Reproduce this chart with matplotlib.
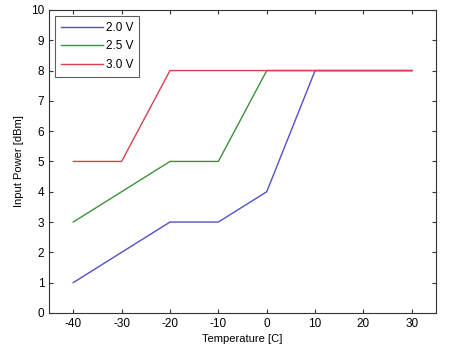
import matplotlib
matplotlib.use("Agg")
import matplotlib.pyplot as plt

temp_20 = [-40, -20, -10, 0, 10, 30]
pow_20 = [1, 3, 3, 4, 8, 8]
temp_25 = [-40, -20, -10, 0, 30]
pow_25 = [3, 5, 5, 8, 8]
temp_30 = [-40, -30, -20, 30]
pow_30 = [5, 5, 8, 8]
labels = ["2.0 V", "2.5 V", "3.0 V"]
xticks = [-40, -30, -20, -10, 0, 10, 20, 30]
yticks = list(range(0, 11))

plt.rcParams['font.family'] = ['Liberation Sans', 'DejaVu Sans']
plt.rcParams['axes.unicode_minus'] = False
fig = plt.figure(figsize=(4.5, 3.56), dpi=100)
ax = fig.add_axes([0.109, 0.121, 0.860, 0.851])
ax.plot(temp_20, pow_20, color="#5050c8", lw=1.0, label=labels[0])
ax.plot(temp_25, pow_25, color="#3f8f3f", lw=1.0, label=labels[1])
ax.plot(temp_30, pow_30, color="#d84050", lw=1.0, label=labels[2])
ax.set_xlim(-45, 35)
ax.set_ylim(0, 10)
ax.set_xticks(xticks)
ax.set_yticks(yticks)
ax.tick_params(direction="in", top=True, right=True, labelsize=8.5, length=3, color="#333333")
for s in ax.spines.values():
    s.set_color("#333333")
ax.set_xlabel("Temperature [C]", fontsize=8, labelpad=3)
ax.set_ylabel("Input Power [dBm]", fontsize=8, labelpad=5)
leg = ax.legend(loc="upper left", fontsize=8.5, fancybox=False, edgecolor="#333333",
                handlelength=3.6, borderaxespad=0.5, labelspacing=0.55, handletextpad=0.2,
                borderpad=0.5)
leg.get_frame().set_linewidth(0.8)
fig.savefig("out.png", dpi=100)
